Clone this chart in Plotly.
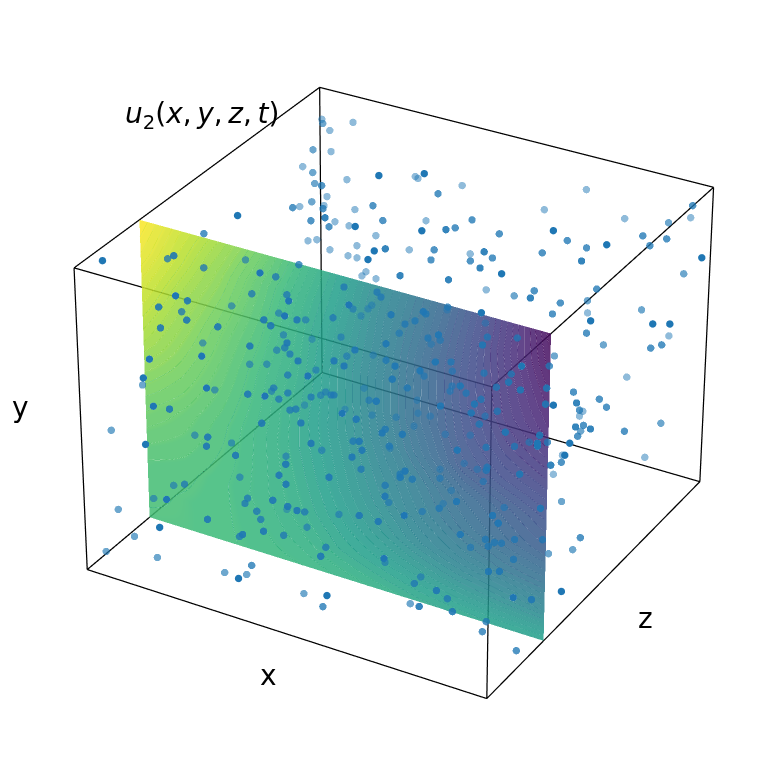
import numpy as np
import plotly.graph_objects as go
import plotly.colors as pc

# Scatter points in box units (thousandths of the axis range)
x_points = [31,169,49,99,1,113,124,128,204, 1,244,1,16,118,2,66,32,346, 207,245,173,238,462,249,166,119,31,
 5,98,88,26,29,245,71,337,252, 259,420,374,17,12,260,92,354,469, 337,41,281,76,415,379,281,549,548,
 590,521,609,148,48,100,88,106,506, 504,514,237,494,492,397,689,609,568, 688,788,133,128,157,546,636,440,345,
 689,585,960,786,947,894,791,881,927, 740,919,780,899,700,997,873,936,823, 706,574,797,763,720,752,701,836,997,
 998,998,829,906,776,978,959,687,776, 701,914,709,655,804,689,805,877,830, 837,939,883,990,888,906,858,696,688,
 703,586,665,951,874,979,781,954,931, 868,825,889,997,815,686,981,984,755, 701,999,675,858,853,925,715,713,697,
 872,619,784,929,676,846,860,930,807, 858,751,768,761,783,845,884,816,868, 889,997,998,962,859,869,968,48,176,
 132,238,319,333,127,461,148,3,308, 373,145,265,182,313,98,134,278,284, 165,3,323,45,329,466,266,158,282,
 296,188,192,2,369,31,277,280,165, 109,340,221,437,145,429,20,152,446, 2,214,279,431,310,2,275,462,249,
 317,302,315,432,367,395,282,194,15, 0,108,321,314,270,392,408,418,571, 270,159,163,550,609,514,532,498,338,
 812,380,182,340,149,439,372,649,531, 455,308,262,64,643,734,555,502,493, 283,196,403,471,463,656,589,490,586,
 232,633,445,498,534,588,519,198,506, 717,504,633,263,256,379,383,343,352, 569,311,88,689,752,173,616,319,322,
 231,349,281,750,543,442,675,320,501, 598,636,395,447,446,559,473,517,317, 288,569,745,556,498,475,463,535,660,
 553,654,578,533,523,530,637,447,529, 542,772,519,646,361,482,600,638,782, 796,329,406,684,453,649,549,751,553,
 650,781,741,463,612,523,683,759,823]
y_points = [996,996,865,934,777,877,850,802,932, 649,897,509,509,956,812,777,652,995, 754,786,714,709,996,998,844,832,533,
 893,995,910,862,791,985,709,996,781, 777,998,792,632,602,927,613,936,964, 996,556,881,551,998,896,640,900,998,
 998,879,866,542,482,493,466,459,998, 973,998,524,825,797,567,968,805,796, 925,998,423,413,404,908,896,458,733,
 886,783,938,823,882,847,998,860,851, 847,998,828,834,817,792,945,692,726, 722,559,852,693,548,662,474,534,922,
 723,668,617,471,434,588,580,405,533, 605,842,514,513,649,482,291,634,630, 469,596,594,747,448,428,423,129,109,
 420,249,449,539,385,533,212,369,230, 356,527,518,583,342,181,656,651,332, 328,562,3,30,293,444,280,269,3,
 421,80,31,338,16,323,303,103,99, 95,98,87,82,87,1,2,49,185, 187,106,251,116,4,1,3,666,798,
 779,783,800,783,515,958,458,447,737, 742,421,578,775,834,381,385,562,507, 708,466,736,315,618,765,477,315,449,
 465,625,580,398,545,197,511,489,491, 180,469,144,447,93,418,70,237,395, 56,328,202,357,423,118,186,342,1,
 304,167,148,283,108,275,101,226,1, 8,3,29,2,5,137,717,704,985, 527,324,332,812,821,664,652,648,351,
 966,800,496,654,305,342,463,764,603, 444,232,454,243,606,737,739,725,658, 403,200,698,701,546,695,545,685,688,
 369,674,353,367,815,656,477,113,329, 640,314,464,312,305,460,458,456,291, 600,80,67,587,594,58,728,423,48,
 43,41,38,571,558,547,386,11,375, 524,521,1,1,344,502,499,331,3, 161,480,481,466,4,271,4,1,430,
 261,414,247,88,414,231,369,25,1, 3,357,5,175,1,333,322,307,487, 275,4,186,2,77,3,219,356,5,
 3,136,1,4,174,0,4,99,87]
z_points = [60,375,425,804,919,779,769,749,544, 904,554,939,954,200,350,395,619,180, 465,500,420,460,105,5,175,135,559,
 999,849,999,999,999,599,999,689,999, 999,744,999,999,994,579,999,634,719, 460,994,569,999,455,634,999,729,509,
 539,704,744,999,959,994,974,984,380, 430,340,999,659,649,999,529,714,689, 514,425,979,969,984,420,470,999,524,
 999,999,979,999,999,999,649,899,924, 814,649,829,899,774,959,624,999,799, 729,884,539,744,959,729,999,999,430,
 724,809,744,999,934,814,799,869,674, 664,285,624,599,435,594,999,470,440, 674,490,455,285,699,699,664,999,999,
 574,734,569,465,654,480,824,694,924, 639,385,420,350,599,759,235,230,559, 529,325,944,999,594,405,509,509,859,
 365,669,734,355,664,295,295,544,470, 504,440,450,435,455,559,599,450,240, 250,330,110,260,250,215,185,330,155,
 120,180,235,240,604,90,589,480,195, 240,564,405,0,0,524,539,405,385, 0,235,0,460,150,0,355,519,350,
 365,0,55,110,140,395,70,60,0, 425,80,475,125,400,110,320,165,110, 265,0,220,80,350,125,215,90,430,
 0,220,215,40,225,15,180,0,165, 75,115,165,155,135,0,559,559,165, 689,944,954,375,410,589,654,569,999,
 295,270,629,485,929,999,719,405,569, 759,979,649,849,634,445,345,305,534, 639,904,235,270,504,380,569,280,330,
 589,355,704,739,60,315,500,859,724, 380,719,559,579,569,410,415,385,619, 280,909,774,345,380,814,60,360,894,
 839,904,864,370,240,180,544,879,435, 255,275,894,919,390,225,170,425,774, 519,220,320,200,799,375,749,794,245,
 410,235,420,624,160,385,200,544,684, 624,270,569,420,470,95,155,170,30, 245,385,250,495,260,335,80,0,345,
 305,170,290,150,0,130,230,135,165]
# depth shade of each point, 1 nearest (darkest) .. 5 farthest (palest)
shade_points = [1,1,3,4,5,4,4,4,3, 5,3,5,5,2,3,3,4,1, 3,3,3,3,1,1,2,2,4,
 5,4,5,5,5,3,5,1,5, 5,1,5,5,5,3,5,3,3, 2,5,3,5,1,3,5,3,1, 2,3,3,5,5,5,5,5,1, 2,1,5,3,3,5,2,3,3, 2,1,5,5,5,2,2,5,3,
 5,5,3,5,5,4,1,3,3, 3,1,3,3,3,1,2,4,3, 3,4,2,3,4,3,5,4,1, 1,1,3,5,4,3,3,4,3, 3,1,3,3,2,3,5,2,2, 3,2,2,1,3,3,3,5,5,
 3,4,3,2,3,2,4,3,4, 3,2,2,1,3,4,1,1,3, 3,1,5,5,3,2,3,3,5, 2,4,4,2,4,2,2,3,3, 3,3,3,3,3,4,4,3,2, 2,1,1,2,3,3,3,3,2,
 2,2,2,2,4,1,4,4,2, 2,4,3,1,1,4,4,3,3, 1,4,1,4,2,1,3,4,3, 3,1,2,4,2,4,2,2,1, 4,2,4,2,4,2,4,3,2, 4,1,3,2,3,4,3,2,5,
 2,3,3,2,3,2,3,1,4, 4,4,3,4,4,1,3,3,1, 4,5,5,2,2,3,3,3,5, 1,2,4,3,5,5,4,2,3, 4,5,4,5,3,2,2,2,3, 4,5,2,2,3,2,3,2,2,
 4,2,4,4,1,2,3,5,4, 2,4,3,4,4,3,3,3,4, 2,5,5,2,2,5,1,3,5, 5,5,5,2,2,2,3,5,3, 2,2,5,5,3,2,2,3,5, 4,2,2,2,5,3,5,5,2,
 3,2,3,4,2,3,2,4,5, 5,2,4,3,4,2,2,2,1, 2,4,3,4,3,4,2,1,4, 3,2,3,4,1,3,4,2,2]
plane_z = 0.25
plane_x = [0,.1,.2,.3,.4,.5,.6,.7,.8,.9,1]
plane_y = [0,.1,.2,.3,.4,.5,.6,.7,.8,.9,1]
plane_u = [
 [.68,.68,.67,.66,.65,.63,.61,.59,.58,.57,.57],
 [.69,.68,.67,.65,.62,.58,.55,.52,.49,.47,.45],
 [.70,.69,.67,.64,.60,.55,.50,.45,.41,.38,.36],
 [.73,.71,.68,.64,.59,.53,.47,.41,.36,.32,.29],
 [.76,.73,.69,.64,.58,.52,.45,.39,.33,.29,.25],
 [.80,.76,.71,.65,.58,.51,.43,.35,.27,.23,.20],
 [.85,.79,.73,.66,.59,.51,.42,.33,.25,.19,.15],
 [.89,.82,.75,.68,.60,.51,.42,.33,.24,.16,.10],
 [.93,.85,.78,.70,.61,.52,.43,.33,.24,.15,.07],
 [.97,.89,.81,.72,.63,.54,.44,.35,.25,.14,.04],
 [1.0,.92,.85,.76,.66,.56,.46,.37,.27,.15,.02]]
title_text = "<i>u</i><sub>2</sub>(<i>x</i>,\u2009<i>y</i>,\u2009<i>z</i>,\u2009<i>t</i>)"

# Matplotlib's weak perspective cannot be set in Plotly (fixed field of view), so the
# box units go through the same camera matrix and the scene is viewed orthographically.
# The scene's depth axis only orders the layers; the plane's depth follows u so that
# Plotly's contour lines on that axis trace the level lines of u.
CAMERA = np.array([[374.9765,-16.3208,261.6985,87.9977],
                   [94.7972,-312.4313,-164.8487,569.1419],
                   [-0.048543,-0.042796,0.085125,1.0]])
PAGE_MARGIN = 8   # the page's body margin pushes the plot div this far right and down
SCENE_ZOOM = 2.005
LEVELS = 60
LEVELS_PER_COLOUR = 6
DEPTH_BOX, DEPTH_U, DEPTH_LINES, DEPTH_POINTS = 300.0, 100.0, -20.0, -200.0
def project(x,y,z):
    x,y,z=[np.asarray(k,float) for k in (x,y,z)]
    s=CAMERA@np.stack([x.ravel(),y.ravel(),z.ravel(),np.ones(x.size)])
    return (s[0]/s[2]).reshape(x.shape),(s[1]/s[2]).reshape(x.shape)

fig=go.Figure()
# box
c=[(0,0,0),(1,0,0),(0,1,0),(1,1,0),(0,0,1),(1,0,1),(0,1,1),(1,1,1)]
edges=[(0,1),(2,3),(4,5),(6,7),(0,2),(1,3),(4,6),(5,7),(0,4),(1,5),(2,6),(3,7)]
ex=[];ez=[];ey=[]
for a,b in edges:
    for i in (a,b):
        u,v=project(*c[i]);ex.append(float(u));ez.append(-float(v));ey.append(DEPTH_BOX)
    ex.append(None);ez.append(None);ey.append(None)
fig.add_trace(go.Scatter3d(x=ex,y=ey,z=ez,mode='lines',line=dict(color='black',width=2.5),hoverinfo='skip',showlegend=False))
# plane
gx,gy=np.meshgrid(plane_x,plane_y)
gu,gv=project(gx,gy,np.full(gx.shape,plane_z))
U=np.array(plane_u)
vir=pc.sequential.Viridis
scale=[]
for i in range(LEVELS):
    col=pc.sample_colorscale(vir,[(i+.5)/LEVELS])[0]
    scale+=[[i/LEVELS,col],[(i+1)/LEVELS,col]]
fig.add_trace(go.Surface(x=gu,y=DEPTH_U*U,z=-gv,surfacecolor=U,cmin=0,cmax=1,colorscale=scale,showscale=False,opacity=.85,
    lighting=dict(ambient=1,diffuse=0,specular=0,roughness=1,fresnel=0),hoverinfo='skip',
    contours=dict(x=dict(highlight=False),y=dict(highlight=False),z=dict(highlight=False))))
# level lines, each run of levels in a colour near the fill it crosses
step=DEPTH_U/LEVELS
for g in range(0,LEVELS,LEVELS_PER_COLOUR):
    mid=(g+LEVELS_PER_COLOUR/2)/LEVELS
    col=pc.sample_colorscale(vir,[max(0.0,mid-0.03)])[0]
    lo=DEPTH_LINES+g*step
    fig.add_trace(go.Surface(x=gu,y=DEPTH_LINES+DEPTH_U*U,z=-gv,surfacecolor=U,cmin=0,cmax=1,colorscale=scale,showscale=False,hidesurface=True,hoverinfo='skip',
        contours=dict(y=dict(show=True,start=lo,end=lo+(LEVELS_PER_COLOUR-1)*step+step/4,size=step,color=col,width=1,highlight=False),
                      x=dict(highlight=False),z=dict(highlight=False))))
# points
px,py,pz=[np.array(k)/999 for k in (x_points,y_points,z_points)]
pu,pv=project(px,py,pz)
sh=np.array(shade_points)
ALPHA={5:.5,4:.65,3:.78,2:.9,1:1.0}
for k in (5,4,3,2,1):
    m=sh==k
    fig.add_trace(go.Scatter3d(x=pu[m],y=np.full(m.sum(),DEPTH_POINTS-k*10),z=-pv[m],mode='markers',
        marker=dict(size=4.3,color='#1f77b4',opacity=ALPHA[k],line=dict(width=0)),hoverinfo='skip',showlegend=False))
font=dict(family='DejaVu Sans',size=28,color='black')
for t,u,v in [(title_text,202,115),('x',268,675),('y',20,407),('z',645,618)]:
    fig.add_annotation(x=(u-PAGE_MARGIN)/779,y=1-(v-PAGE_MARGIN)/779,xref='paper',yref='paper',text=t,showarrow=False,xanchor='center',yanchor='middle',font=font)
ax=dict(visible=False)
fig.update_layout(width=779,height=779,margin=dict(l=0,r=0,t=0,b=0),paper_bgcolor='white',
  scene=dict(domain=dict(x=[0,1],y=[0,1]),bgcolor='white',
    xaxis=dict(range=[PAGE_MARGIN,779+PAGE_MARGIN],**ax),yaxis=dict(range=[-400,400],**ax),zaxis=dict(range=[-779-PAGE_MARGIN,-PAGE_MARGIN],**ax),
    aspectmode='manual',aspectratio=dict(x=SCENE_ZOOM,y=SCENE_ZOOM*800/779,z=SCENE_ZOOM),
    camera=dict(eye=dict(x=0,y=-3,z=0),up=dict(x=0,y=0,z=1),center=dict(x=0,y=0,z=0),projection=dict(type='orthographic'))))
fig.write_html("out.html")
